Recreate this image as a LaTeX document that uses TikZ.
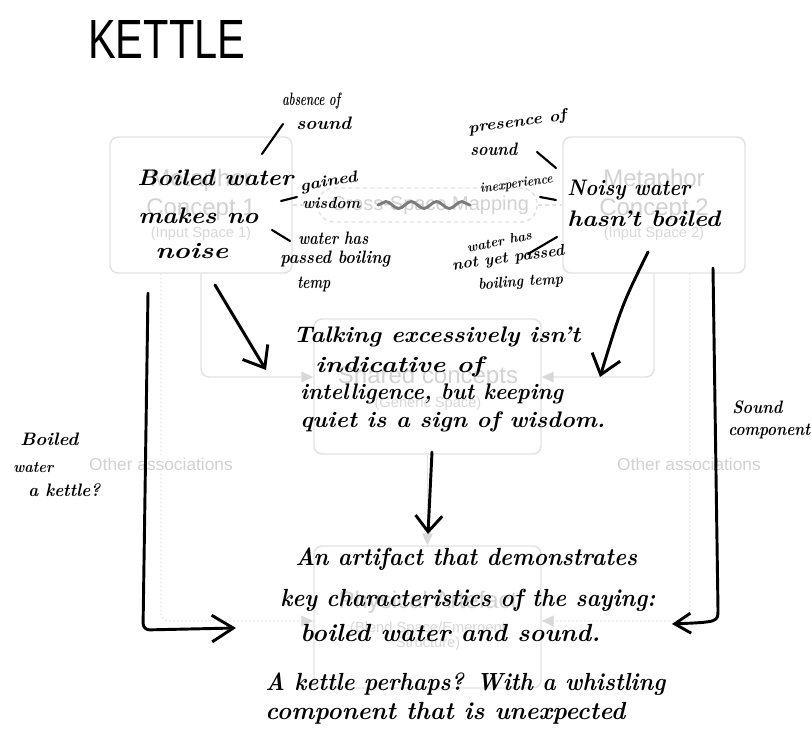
\documentclass[tikz,border=0pt]{standalone}
\usepackage{fontspec}
\usepackage{graphicx}
\usetikzlibrary{arrows.meta,decorations.pathmorphing,calc}
\newfontfamily\tmplfont{Liberation Sans}
\newcommand{\handfont}{\normalfont\itshape}
\newdimen\pxu \pxu=0.75pt
% handwritten line: stretched to a width and an x-height, both in px
\newcommand{\hx}[3]{\resizebox{#1\pxu}{#2\pxu}{\raisebox{0pt}[1ex][0pt]{#3}}}
\definecolor{tline}{HTML}{E2E2E2}
\definecolor{tarrow}{HTML}{D8D8D8}
\definecolor{ttitle}{HTML}{D2D2D2}
\definecolor{tsub}{HTML}{D8D8D8}
\definecolor{squig}{HTML}{7C7C7C}
\tikzset{
  tbox/.style={draw=tline, line width=1.1pt, rounded corners=6pt, inner sep=0pt},
  ttl/.style={anchor=base, inner sep=0pt, text=ttitle, font=\tmplfont\fontsize{18}{20}\selectfont},
  tsb/.style={anchor=base, inner sep=0pt, text=tsub, font=\tmplfont\fontsize{11}{13}\selectfont},
  tlab/.style={anchor=base, inner sep=1.5pt, fill=white, text=ttitle, font=\tmplfont\fontsize{13}{15}\selectfont},
  tconn/.style={draw=tline, line width=1.1pt, rounded corners=6pt,
    -{Triangle[length=9pt,width=8pt,color=tarrow,fill=tarrow]}},
  tdot/.style={tconn, dash pattern=on 1pt off 2pt},
  tdash/.style={draw=tline, line width=1.1pt, dash pattern=on 3pt off 2.5pt},
  hw/.style={anchor=west, inner sep=0pt, font=\handfont\bfseries},
  hwb/.style={anchor=west, inner sep=0pt, font=\handfont\bfseries},
  pen/.style={line width=2.2pt, line cap=round, line join=round, black},
  tick/.style={line width=1.6pt, line cap=round, black},
  barb/.style={-{Straight Barb[length=14pt,width=22pt]}},
  smallbarb/.style={-{Straight Barb[length=12pt,width=20pt]}},
}
\begin{document}
\begin{tikzpicture}[x=0.75pt,y=-0.75pt]
\useasboundingbox (0,0) rectangle (811,731);
\fill[white] (0,0) rectangle (811,731);
\begin{scope}
\clip (0,0) rectangle (811,731);

% ---------- template: spaces and mappings ----------
\node[tbox, minimum width=136.5pt, minimum height=102pt] (in1) at (201,205) {};
\node[tbox, minimum width=136.5pt, minimum height=102pt] (in2) at (654,205) {};
\node[tbox, dash pattern=on 3pt off 2.5pt, rounded corners=12pt,
      minimum width=164.25pt, minimum height=25.5pt] (map) at (427.5,205) {};
\node[tbox, minimum width=170.25pt, minimum height=101.25pt] (gen) at (427.5,386.5) {};
\node[tbox, minimum width=170.25pt, minimum height=106.5pt] (blend) at (427.5,617) {};

\node[ttl] (in1a) at (201,186.5) {Metaphor};
\node[ttl] (in1b) at (201,215.5) {Concept 1};
\node[tsb] (in1c) at (201,238) {(Input Space 1)};
\node[ttl] (in2a) at (654,186.5) {Metaphor};
\node[ttl] (in2b) at (654,215.5) {Concept 2};
\node[tsb] (in2c) at (654,238) {(Input Space 2)};
\node[ttl, font=\tmplfont\fontsize{15}{17}\selectfont] (mapt) at (430,211) {Cross-Space Mapping};
\node[ttl] (gena) at (428,383.5) {Shared concepts};
\node[tsb] (genb) at (428,407) {(Generic Space)};
\node[ttl] (bla) at (428,608.5) {Physical Artefact};
\node[tsb] (blb) at (428,632) {(Blend Space/Emergent};
\node[tsb] (blc) at (428,647) {Structure)};

\draw[tdash] (in1.east) -- (map.west);
\draw[tdash] (map.east) -- (in2.west);
\draw[tconn] (in1.south) |- ($(gen.west)+(0,-9.5)$);
\draw[tconn] (in2.south) |- ($(gen.east)+(0,-9.5)$);
\draw[tconn] (gen.south) -- (blend.north);
\draw[tdot] ($(in1.south)+(-40,0)$) |- ($(blend.west)+(0,4)$);
\draw[tdot] ($(in2.south)+(36,0)$) |- ($(blend.east)+(0,4)$);
\node[tlab] (oa1) at (161,470) {Other associations};
\node[tlab] (oa2) at (689,470) {Other associations};

% ---------- handwritten notes ----------
\node[anchor=west, inner sep=0pt, font=\tmplfont] (title) at (88,40) {\resizebox{157\pxu}{38\pxu}{KETTLE}};

\node[hwb] (c1a) at (137,181) {\hx{156}{10}{Boiled water}};
\node[hwb] (c1b) at (138,219) {\hx{120}{10}{makes no}};
\node[hwb] (c1c) at (155,253) {\hx{73}{10}{noise}};
\node[hwb] (c2a) at (567,191) {\hx{123}{10}{Noisy water}};
\node[hwb] (c2b) at (567,222) {\hx{153}{10}{hasn't boiled}};

\node[hw] (ab1) at (282,102) {\hx{58}{8}{absence of}};
\node[hw] (ab2) at (296,126) {\hx{55}{8}{sound}};
\node[hw, rotate=10] (gw1) at (300,188) {\hx{58}{7}{gained}};
\node[hw] (gw2) at (302,205) {\hx{58}{7}{wisdom}};
\node[hw] (wp1) at (298,240) {\hx{70}{8}{water has}};
\node[hw] (wp2) at (280,259) {\hx{110}{8}{passed boiling}};
\node[hw] (wp3) at (297,284) {\hx{33}{8}{temp}};

\node[hw, rotate=8] (pr1) at (468,130) {\hx{99}{7}{presence of}};
\node[hw] (pr2) at (470,152) {\hx{47}{8}{sound}};
\node[hw, rotate=8] (inx) at (480,190) {\hx{73}{6}{inexperience}};
\node[hw, rotate=12] (np1) at (467,250) {\hx{66}{6}{water has}};
\node[hw, rotate=8] (np2) at (452,267) {\hx{113}{7}{not yet passed}};
\node[hw, rotate=4] (np3) at (478,286) {\hx{85}{7}{boiling temp}};

\draw[tick] (262,154) -- (283,124);
\draw[tick] (281,201) -- (297,197);
\draw[tick] (272,230) -- (290,241);
\draw[tick] (537,152) -- (556,168);
\draw[tick] (540,197) -- (556,200);
\draw[tick] (528,254) -- (557,237);

\draw[squig, line width=2.2pt, line cap=round, decorate,
      decoration={snake, amplitude=2.6pt, segment length=19pt}] (378,205) -- (470,205);

\node[hw] (s1) at (293,338) {\hx{287}{10}{Talking excessively isn't}};
\node[hw] (s2) at (315,367) {\hx{168}{10}{indicative of}};
\node[hw] (s3) at (300,394) {\hx{263}{10}{intelligence, but keeping}};
\node[hw] (s4) at (300,422) {\hx{305}{10}{quiet is a sign of wisdom.}};

\node[hw] (b1) at (295,560) {\hx{342}{11}{An artifact that demonstrates}};
\node[hw] (b2) at (280,601) {\hx{375}{11}{key characteristics of the saying:}};
\node[hw] (b3) at (300,636) {\hx{300}{11}{boiled water and sound.}};
\node[hw] (b4) at (265,685) {\hx{400}{11}{A kettle perhaps? With a whistling}};
\node[hw] (b5) at (265,714) {\hx{360}{11}{component that is unexpected}};

\node[hw] (k1) at (20,441) {\hx{58}{8}{Boiled}};
\node[hw] (k2) at (13,469) {\hx{40}{7}{water}};
\node[hw] (k3) at (28,492) {\hx{72}{8}{a kettle?}};
\node[hw] (sc1) at (732,409) {\hx{50}{8}{Sound}};
\node[hw] (sc2) at (728,431) {\hx{82}{8}{component}};

% ---------- handwritten arrows ----------
\coordinate (l0) at (215,285);
\coordinate (l1) at (266,370);
\coordinate (r0) at (648,252);
\coordinate (r1) at (600,377);
\coordinate (m0) at (432,452);
\coordinate (m1) at (428,534);
\coordinate (lb0) at (148,293);
\coordinate (lb1) at (143,630);
\coordinate (lb2) at (236,628);
\coordinate (rb0) at (713,268);
\coordinate (rb1) at (718,610);
\coordinate (rb2) at (672,624);

\draw[pen, barb] (l0) -- (l1);
\draw[pen, barb] (r0) .. controls (622,305) .. (r1);
\draw[pen, smallbarb] (m0) -- (m1);
\draw[pen, -{Straight Barb[length=16pt,width=20pt]}, rounded corners=5pt] (lb0) -- (lb1) -- (lb2);
\draw[pen, -{Straight Barb[length=12pt,width=15pt]}] (rb0) -- (rb1) .. controls (718,622) .. (rb2);
\end{scope}
\end{tikzpicture}
\end{document}
